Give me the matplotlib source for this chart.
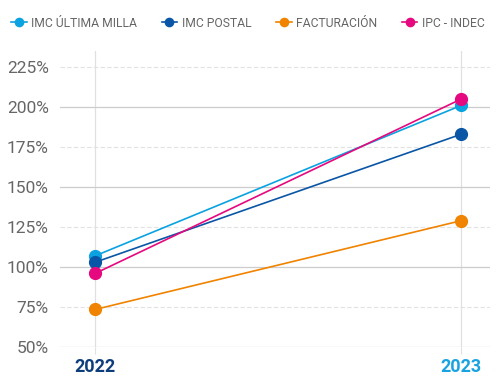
import matplotlib.pyplot as plt
from matplotlib.ticker import MultipleLocator, FuncFormatter

plt.rcParams['font.family'] = ['Roboto', 'DejaVu Sans']

years = ['2022', '2023']
year_colors = ['#0d3d7a', '#1aa3e0']
series_names = ['IMC ÚLTIMA MILLA', 'IMC POSTAL', 'FACTURACIÓN', 'IPC - INDEC']
series_colors = ['#0aa2e0', '#0a56a6', '#f08300', '#e5087e']
imc_ultima_milla = [107, 201]
imc_postal = [103, 183]
facturacion = [73.5, 129]
ipc_indec = [96, 205]

fig = plt.figure(figsize=(5, 3.9), dpi=100)
ax = fig.add_axes([0.12, 0.11, 0.86, 0.759])

x = range(len(years))
for name, vals, col in zip(series_names,
                           [imc_ultima_milla, imc_postal, facturacion, ipc_indec],
                           series_colors):
    ax.plot(x, vals, color=col, lw=1.2, marker='o', ms=8.5, label=name,
            zorder=3)

ax.set_xlim(-0.0956, 1.079)
ax.set_ylim(50, 235)
ax.yaxis.set_major_locator(MultipleLocator(50))
ax.yaxis.set_minor_locator(MultipleLocator(25))
ax.yaxis.set_major_formatter(FuncFormatter(lambda v, p: f'{v:.0f}%'))
ax.yaxis.set_minor_formatter(FuncFormatter(lambda v, p: f'{v:.0f}%'))
ax.grid(axis='y', which='major', color='#cccccc', lw=0.9)
ax.grid(axis='y', which='minor', color='#e2e2e2', lw=0.8, ls=(0, (4, 2)))
ax.grid(axis='x', color='#e0e0e0', lw=0.9)
ax.set_xticks(list(x))
ax.set_xticklabels(years, fontsize=13, fontweight='bold')
for lbl, c in zip(ax.get_xticklabels(), year_colors):
    lbl.set_color(c)
ax.tick_params(axis='y', which='both', length=0, labelsize=12.5,
               labelcolor='#666666', pad=8)
ax.tick_params(axis='x', length=5, color='#e0e0e0', pad=3)
for s in ax.spines.values():
    s.set_visible(False)

fig.legend(loc='upper left', bbox_to_anchor=(0.0, 0.985), ncol=4, frameon=False,
           fontsize=8.7, handlelength=1.3, handletextpad=0.4, columnspacing=2.0,
           markerscale=0.7, labelcolor='#666666')

fig.savefig('out.png', dpi=100)
